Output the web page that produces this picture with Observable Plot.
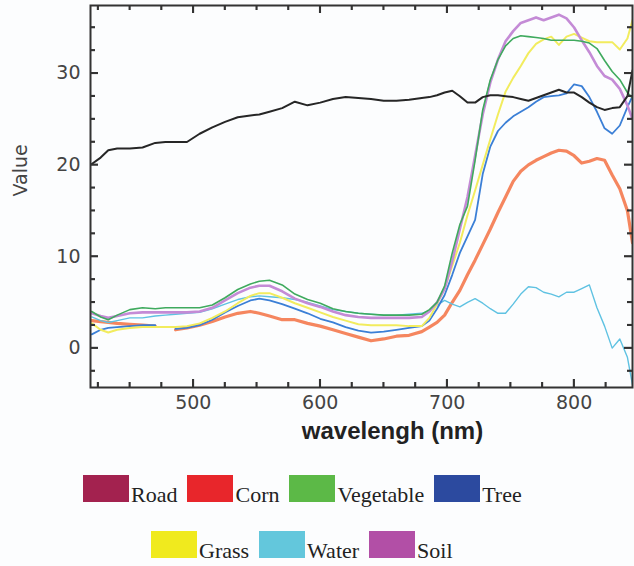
<!DOCTYPE html>
<html>
<head>
<meta charset="utf-8">
<script src="https://cdn.jsdelivr.net/npm/d3@7"></script>
<script src="https://cdn.jsdelivr.net/npm/@observablehq/plot@0.6"></script>
<style>
  html, body { margin: 0; padding: 0; background: #fcfdfe; }
  #chart svg { display: block; }
  .legend { font-family: "Liberation Serif", "Times New Roman", serif; font-size: 22px; color: #222; }
  .row { display: flex; align-items: baseline; gap: 10px; }
  .item { display: flex; align-items: baseline; gap: 2px; }
  .sw { width: 46px; height: 27px; }
  .lab { line-height: 0.8; }
</style>
</head>
<body>
<div id="chart"></div>
<div class="legend" id="legendBox"></div>
<script>
(function () {
// ---- data ----
const wavelength = [420, 427, 433, 440, 450, 460, 470, 478, 486, 495, 505, 515, 525, 535, 545, 552, 560, 570, 580, 590, 600, 610, 620, 630, 640, 650, 660, 670, 680, 686, 692, 698, 704, 710, 716, 722, 728, 734, 740, 746, 752, 758, 764, 770, 776, 782, 788, 794, 800, 806, 812, 818, 824, 830, 836, 842, 846];

const road = [20.1, 20.8, 21.6, 21.8, 21.8, 21.9, 22.4, 22.5, 22.5, 22.5, 23.4, 24.1, 24.7, 25.2, 25.4, 25.5, 25.8, 26.2, 26.9, 26.5, 26.8, 27.2, 27.4, 27.3, 27.2, 27.0, 27.0, 27.1, 27.3, 27.4, 27.6, 27.9, 28.1, 27.5, 26.8, 26.8, 27.4, 27.6, 27.6, 27.5, 27.4, 27.2, 27.0, 27.3, 27.6, 27.9, 28.2, 27.9, 27.9, 27.4, 26.8, 26.3, 26.0, 26.2, 26.3, 27.5, 30.3];
const corn = [3.0, 2.9, 2.8, 2.7, 2.6, 2.5, 2.4, null, 2.0, 2.2, 2.5, 2.9, 3.4, 3.8, 4.0, 3.8, 3.5, 3.1, 3.1, 2.7, 2.4, 2.0, 1.6, 1.2, 0.8, 1.0, 1.3, 1.4, 1.8, 2.3, 2.8, 3.6, 5.0, 6.3, 8.0, 9.6, 11.3, 13.0, 14.8, 16.5, 18.2, 19.3, 20.0, 20.5, 20.9, 21.3, 21.6, 21.5, 21.0, 20.2, 20.4, 20.7, 20.5, 18.9, 17.4, 15.0, 11.5];
const vegetable = [4.0, 3.4, 3.1, 3.6, 4.2, 4.4, 4.3, 4.4, 4.4, 4.4, 4.4, 4.7, 5.5, 6.4, 7.0, 7.3, 7.4, 6.9, 5.9, 5.3, 4.9, 4.3, 4.0, 3.8, 3.7, 3.6, 3.6, 3.6, 3.7, 4.2, 5.0, 6.8, 10.4, 13.5, 15.5, 20.5, 26.0, 29.3, 31.5, 33.0, 33.8, 34.1, 34.0, 33.9, 33.8, 33.6, 33.6, 33.6, 33.6, 33.5, 33.3, 32.7, 31.4, 30.2, 29.3, 27.9, 27.3];
const tree = [1.5, 2.0, 2.2, 2.3, 2.4, 2.5, 2.5, null, 2.1, 2.2, 2.5, 3.1, 3.9, 4.6, 5.2, 5.4, 5.2, 4.8, 4.3, 3.8, 3.2, 2.8, 2.3, 1.9, 1.7, 1.8, 2.0, 2.2, 2.4, 3.0, 4.3, 5.8, 8.0, 10.4, 12.2, 14.0, 19.0, 22.0, 23.7, 24.6, 25.3, 25.8, 26.3, 26.9, 27.4, 27.5, 27.6, 27.8, 28.8, 28.6, 27.4, 25.8, 24.0, 23.4, 24.3, 26.3, 27.5];
const grass = [2.7, 2.0, 1.7, 2.0, 2.2, 2.3, 2.3, 2.3, 2.3, 2.4, 2.7, 3.3, 4.0, 4.9, 5.7, 6.0, 6.0, 5.5, 4.9, 4.4, 3.9, 3.4, 3.0, 2.6, 2.5, 2.5, 2.5, 2.4, 2.4, 3.3, 4.8, 6.5, 9.0, 11.5, 14.5, 17.2, 20.0, 22.8, 25.5, 28.0, 29.5, 30.8, 32.2, 33.2, 33.7, 34.0, 33.1, 34.0, 34.3, 33.9, 33.5, 33.4, 33.4, 33.4, 32.6, 33.8, 35.8];
const water = [3.4, 3.0, 2.8, 3.0, 3.3, 3.3, 3.5, 3.6, 3.7, 3.8, 3.9, 4.3, 4.8, 5.3, 5.6, 5.7, 5.6, 5.5, 5.3, 5.0, 4.6, 4.2, 4.0, 3.8, 3.7, 3.6, 3.6, 3.7, 3.8, 4.1, 4.7, 5.2, 4.8, 4.5, 5.0, 5.4, 4.9, 4.3, 3.8, 3.8, 4.8, 5.9, 6.7, 6.6, 6.1, 5.9, 5.6, 6.1, 6.1, 6.5, 6.9, 4.4, 2.4, 0.0, 1.0, -1.0, -4.0];
const soil = [3.8, 3.5, 3.3, 3.5, 3.8, 3.9, 3.9, 3.9, 3.9, 3.9, 4.0, 4.4, 5.2, 6.0, 6.6, 6.8, 6.8, 6.2, 5.4, 4.9, 4.5, 4.0, 3.6, 3.4, 3.3, 3.3, 3.3, 3.3, 3.4, 4.0, 5.0, 6.5, 9.5, 13.0, 16.5, 21.0, 25.5, 29.0, 31.5, 33.5, 34.6, 35.5, 35.8, 36.1, 35.8, 36.1, 36.4, 36.0, 35.0, 33.6, 32.3, 30.8, 29.7, 29.3, 28.3, 26.5, 25.0];

const seriesNames = ["Road", "Corn", "Vegetable", "Tree", "Grass", "Water", "Soil"];
const seriesValues = [road, corn, vegetable, tree, grass, water, soil];

const xMajorTicks = [500, 600, 700, 800];
const xMinorTicks = [425, 450, 475, 525, 550, 575, 625, 650, 675, 725, 750, 775, 825];
const yMajorTicks = [0, 10, 20, 30];
const yMinorTicks = [-2.5, 2.5, 5, 7.5, 12.5, 15, 17.5, 22.5, 25, 27.5, 32.5, 35];

// ---- styles (kept apart from data) ----
const legendColors = {Road: "#a3224f", Corn: "#e8262b", Vegetable: "#5cb947", Tree: "#2c4a9f", Grass: "#f0ea1e", Water: "#63c7dc", Soil: "#b24fa6"};
const lineColors = {Road: "#262626", Corn: "#f5865f", Vegetable: "#3faa5e", Tree: "#3b7fd6", Grass: "#f2ec5e", Water: "#5fc2e2", Soil: "#c48bd6"};
const lineWidths = {Road: 2, Corn: 3.2, Vegetable: 1.6, Tree: 1.8, Grass: 2, Water: 1.4, Soil: 2.6};
const drawOrder = ["Corn", "Water", "Tree", "Grass", "Soil", "Vegetable", "Road"];

const table = seriesNames.flatMap((name, s) =>
  wavelength.map((w, i) => ({series: name, wavelength: w, value: seriesValues[s][i]}))
);

// ---- layout ----
const W = 634, H = 460, mL = 90, mR = 2, mT = 5, mB = 73;
const frameW = W - mL - mR, frameH = H - mT - mB;
const ink = "#333";

const lineMarks = drawOrder.map(name =>
  Plot.line(table.filter(d => d.series === name), {
    x: "wavelength", y: "value",
    stroke: lineColors[name], strokeWidth: lineWidths[name],
    strokeLinejoin: "round", clip: true
  })
);

// inward ticks as short rules (insets in pixels)
const tickOpts = {stroke: ink, strokeWidth: 1.6};
const bottomTicks = (v, len) => Plot.ruleX(v, {x: d => d, insetTop: frameH - len, ...tickOpts});
const topTicks = (v, len) => Plot.ruleX(v, {x: d => d, insetBottom: frameH - len, ...tickOpts});
const leftTicks = (v, len) => Plot.ruleY(v, {y: d => d, insetRight: frameW - len, ...tickOpts});
const rightTicks = (v, len) => Plot.ruleY(v, {y: d => d, insetLeft: frameW - len, ...tickOpts});

const svg = Plot.plot({
  width: W, height: H,
  marginLeft: mL, marginRight: mR, marginTop: mT, marginBottom: mB,
  x: {domain: [419, 846]},
  y: {domain: [-4.3, 37.4]},
  style: {fontFamily: "DejaVu Sans, sans-serif", fontSize: "19px", background: "transparent", color: "#444"},
  marks: [
    ...lineMarks,
    Plot.frame({stroke: ink, strokeWidth: 2}),
    bottomTicks(xMinorTicks, 5), bottomTicks(xMajorTicks, 8),
    topTicks(xMinorTicks, 5), topTicks(xMajorTicks, 8),
    leftTicks(yMinorTicks, 5), leftTicks(yMajorTicks, 8),
    rightTicks(yMinorTicks, 5), rightTicks(yMajorTicks, 8),
    // tick labels
    Plot.axisX({anchor: "bottom", ticks: xMajorTicks, tickSize: 0, tickPadding: 8, label: null, fill: "#444"}),
    Plot.axisY({anchor: "left", ticks: yMajorTicks, tickSize: 0, tickPadding: 10, label: null, fill: "#444"}),
    // axis titles
    Plot.text(["wavelengh (nm)"], {frameAnchor: "bottom", dx: 31, dy: 51, fontFamily: "Liberation Sans, Arial, sans-serif", fontWeight: "bold", fontSize: 24, fill: "#222"}),
    Plot.text(["Value"], {frameAnchor: "left", dx: -70, rotate: -90, fontSize: 19, fill: "#444"})
  ]
});
document.getElementById("chart").appendChild(svg);

// extra pass: inward ticks placed through Plot's own scales, drawn on top
const sx = svg.scale("x"), sy = svg.scale("y");
const g = d3.select(svg).append("g").attr("stroke", ink).attr("stroke-width", 1.6);
const top = mT, bottom = H - mB, left = mL, right = W - mR;
[[xMinorTicks, 5], [xMajorTicks, 8]].forEach(([vals, len]) => vals.forEach(v => {
  const px = sx.apply(v);
  g.append("line").attr("x1", px).attr("x2", px).attr("y1", bottom).attr("y2", bottom - len);
  g.append("line").attr("x1", px).attr("x2", px).attr("y1", top).attr("y2", top + len);
}));
[[yMinorTicks, 5], [yMajorTicks, 8]].forEach(([vals, len]) => vals.forEach(v => {
  const py = sy.apply(v);
  g.append("line").attr("y1", py).attr("y2", py).attr("x1", left).attr("x2", left + len);
  g.append("line").attr("y1", py).attr("y2", py).attr("x1", right).attr("x2", right - len);
}));

// ---- legend ----
const legendRows = [["Road", "Corn", "Vegetable", "Tree"], ["Grass", "Water", "Soil"]];
const rowPad = [83, 151];
const rowTop = [15, 27];
const box = document.getElementById("legendBox");
legendRows.forEach((row, r) => {
  const div = document.createElement("div");
  div.className = "row";
  div.style.paddingLeft = rowPad[r] + "px";
  div.style.marginTop = rowTop[r] + "px";
  row.forEach(name => {
    const item = document.createElement("div");
    item.className = "item";
    const sw = document.createElement("div");
    sw.className = "sw";
    sw.style.background = legendColors[name];
    const lab = document.createElement("span");
    lab.className = "lab";
    lab.textContent = name;
    item.appendChild(sw);
    item.appendChild(lab);
    div.appendChild(item);
  });
  box.appendChild(div);
});
})();
</script>
</body>
</html>
